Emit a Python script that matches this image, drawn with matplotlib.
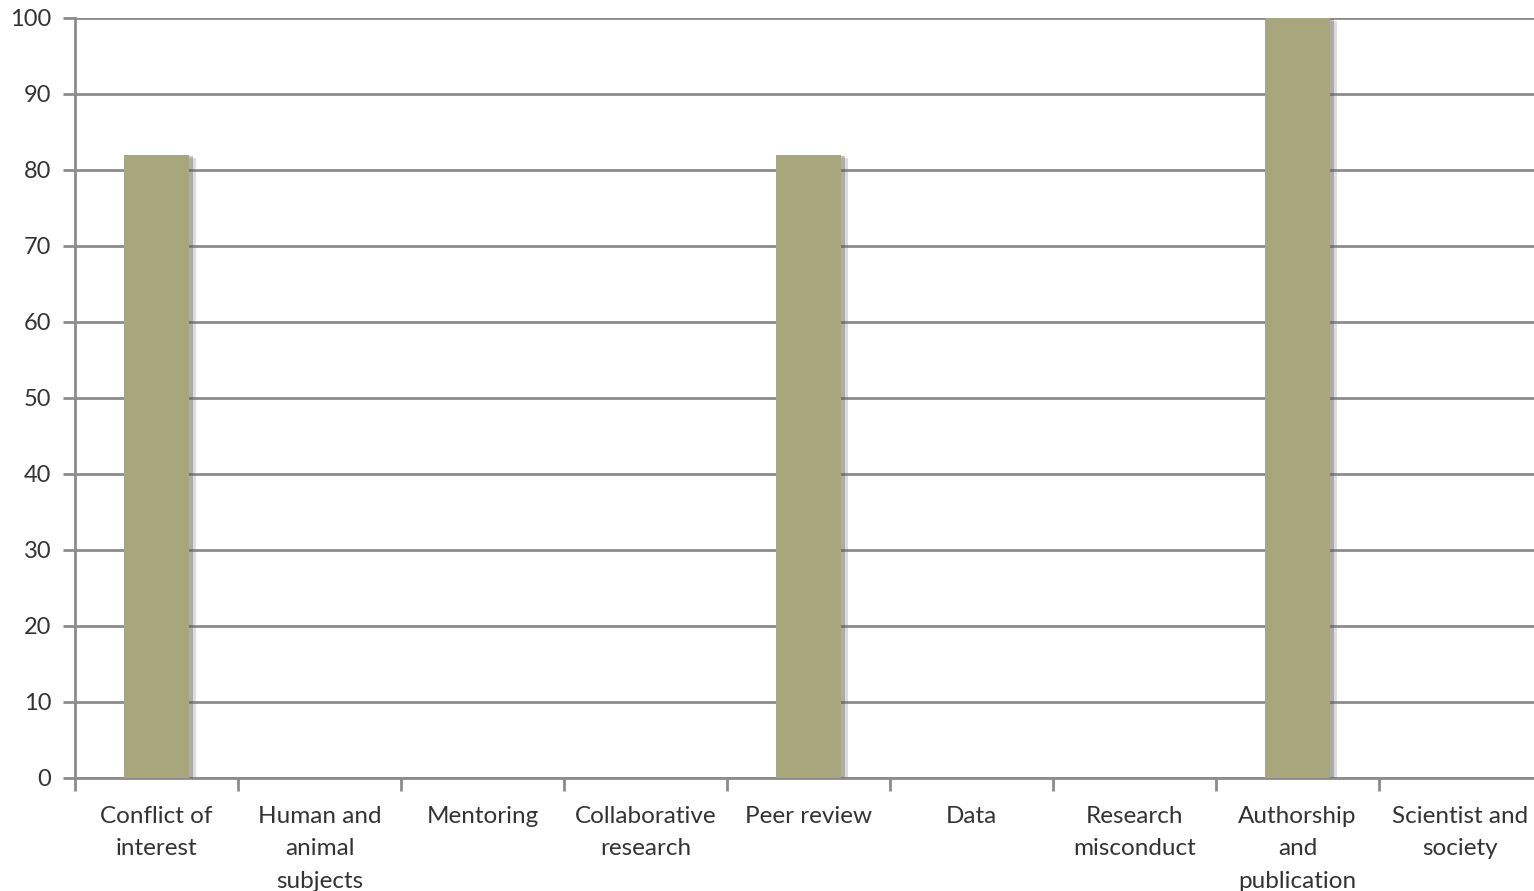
import matplotlib.pyplot as plt
import matplotlib.patheffects as pe
import numpy as np

categories = ["Conflict of\ninterest", "Human and\nanimal\nsubjects", "Mentoring",
              "Collaborative\nresearch", "Peer review", "Data", "Research\nmisconduct",
              "Authorship\nand\npublication", "Scientist and\nsociety"]
values = [82, 0, 0, 0, 82, 0, 0, 100, 0]

plt.rcParams['font.family'] = ['Lato', 'DejaVu Sans']

fig = plt.figure(figsize=(15.34, 8.91), dpi=100)
ax = fig.add_axes([75 / 1534, 113 / 891, 1467 / 1534, 760 / 891])

x = np.arange(len(categories))
bars = ax.bar(x, values, width=0.4, color="#a8a67c", zorder=3)
for b in bars:
    b.set_path_effects([pe.SimplePatchShadow(offset=(5, -2), shadow_rgbFace="#777777", alpha=0.25),
                        pe.SimplePatchShadow(offset=(2.5, -1), shadow_rgbFace="#555555", alpha=0.35),
                        pe.Normal()])

ax.set_xlim(-0.5, 8.5)
ax.set_ylim(0, 100)
ax.set_yticks(np.arange(0, 101, 10))
ax.yaxis.grid(True, color="#8c8c8c", linewidth=2, zorder=0)

ax.set_xticks(x)
ax.set_xticklabels(categories, fontsize=17.5, color="#333333", linespacing=1.68)
ax.set_xticks(np.arange(-0.5, 8.6, 1), minor=True)
ax.tick_params(axis="x", which="major", length=0, pad=20)
ax.tick_params(axis="x", which="minor", length=9, width=2, color="#8c8c8c")
ax.tick_params(axis="y", length=9, width=2, color="#8c8c8c", labelsize=17,
               labelcolor="#333333", pad=8)

for s in ["top", "right"]:
    ax.spines[s].set_visible(False)
for s in ["left", "bottom"]:
    ax.spines[s].set_color("#8c8c8c")
    ax.spines[s].set_linewidth(2)

fig.savefig("out.png", dpi=100)
